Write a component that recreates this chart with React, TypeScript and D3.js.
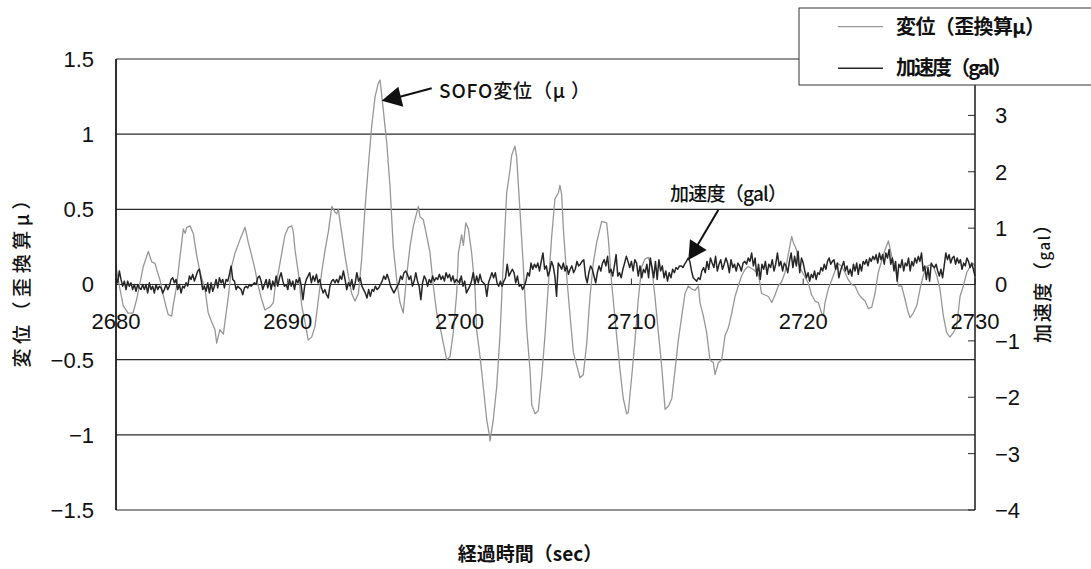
import React from 'react';
import * as d3 from 'd3';

// Time axis (seconds) and value ticks
const T0 = 2680;
const T1 = 2730;
const timeTicks = [2680, 2690, 2700, 2710, 2720, 2730];
const dispTicks = [-1.5, -1, -0.5, 0, 0.5, 1, 1.5];
const accelTicks = [-4, -3, -2, -1, 0, 1, 2, 3, 4];
// the top label (4) sits under the legend box
const accelTickLabels = [-4, -3, -2, -1, 0, 1, 2, 3];

// SOFO displacement (strain-equivalent μ): [seconds after 2680, value]
const displacement: [number, number][] = [
  [0.00,0.12],[0.23,-0.03],[0.42,-0.14],[0.70,-0.19],[0.99,-0.19],[1.20,-0.10],[1.59,0.12],[1.88,0.22],[2.08,0.15],[2.27,0.14],
  [2.37,0.10],[2.56,0.03],[2.85,-0.12],[3.04,-0.20],[3.24,-0.21],[3.34,-0.13],[3.53,-0.01],[3.73,0.19],[3.92,0.37],[4.02,0.34],
  [4.12,0.38],[4.31,0.39],[4.50,0.34],[4.70,0.19],[4.89,0.08],[5.18,-0.03],[5.37,-0.19],[5.57,-0.25],[5.76,-0.30],[5.86,-0.39],
  [6.05,-0.30],[6.25,-0.33],[6.34,-0.25],[6.54,-0.08],[6.73,0.12],[6.93,0.21],[7.22,0.30],[7.51,0.38],[7.70,0.28],[7.90,0.19],
  [8.09,0.10],[8.28,-0.01],[8.48,-0.10],[8.67,-0.17],[8.96,-0.15],[9.16,-0.12],[9.25,-0.03],[9.45,0.08],[9.65,0.21],[9.84,0.33],
  [10.03,0.38],[10.23,0.39],[10.32,0.35],[10.42,0.23],[10.61,0.08],[10.81,-0.14],[11.00,-0.25],[11.19,-0.37],[11.39,-0.35],[11.58,-0.28],
  [11.78,-0.10],[11.97,0.08],[12.17,0.23],[12.36,0.35],[12.56,0.52],[12.75,0.48],[12.85,0.47],[12.94,0.50],[13.14,0.34],[13.33,0.19],
  [13.52,0.06],[13.72,-0.06],[13.91,-0.11],[14.11,-0.06],[14.30,0.17],[14.49,0.50],[14.69,0.79],[14.88,1.05],[15.08,1.25],[15.27,1.34],
  [15.37,1.36],[15.56,1.16],[15.76,0.94],[15.95,0.65],[16.14,0.25],[16.34,0.03],[16.53,-0.12],[16.72,-0.19],[16.92,0.06],[17.11,0.25],
  [17.31,0.39],[17.60,0.52],[17.69,0.45],[17.89,0.43],[18.09,0.32],[18.28,0.21],[18.47,-0.01],[18.67,-0.19],[18.86,-0.28],[19.05,-0.39],
  [19.25,-0.50],[19.44,-0.48],[19.63,-0.32],[19.83,-0.06],[19.93,0.21],[20.12,0.33],[20.22,0.26],[20.36,0.41],[20.51,0.37],[20.70,0.21],
  [20.90,-0.03],[20.99,-0.30],[21.19,-0.48],[21.38,-0.68],[21.58,-0.90],[21.73,-1.00],[21.77,-1.04],[21.96,-0.90],[22.16,-0.68],[22.35,-0.34],
  [22.54,0.14],[22.74,0.61],[22.93,0.76],[23.03,0.86],[23.22,0.92],[23.32,0.85],[23.52,0.48],[23.71,0.12],[23.91,-0.30],[24.10,-0.57],
  [24.20,-0.80],[24.39,-0.86],[24.58,-0.84],[24.78,-0.61],[24.97,-0.34],[25.16,-0.01],[25.36,0.32],[25.55,0.57],[25.75,0.61],[25.84,0.66],
  [25.94,0.60],[26.04,0.37],[26.23,0.06],[26.43,-0.21],[26.62,-0.45],[26.82,-0.54],[27.01,-0.62],[27.20,-0.60],[27.40,-0.39],[27.59,-0.08],
  [27.78,0.14],[27.98,0.28],[28.27,0.42],[28.56,0.41],[28.66,0.30],[28.85,0.01],[29.14,-0.34],[29.34,-0.57],[29.53,-0.76],[29.73,-0.86],
  [29.82,-0.85],[30.02,-0.61],[30.21,-0.37],[30.40,-0.10],[30.60,0.12],[30.79,0.17],[30.99,0.18],[31.18,0.12],[31.37,-0.08],[31.57,-0.32],
  [31.76,-0.54],[31.96,-0.83],[32.15,-0.81],[32.35,-0.76],[32.54,-0.57],[32.73,-0.37],[32.93,-0.21],[33.12,-0.06],[33.31,-0.01],[33.51,-0.03],
  [33.70,-0.04],[33.90,-0.01],[33.99,-0.12],[34.19,-0.21],[34.38,-0.32],[34.57,-0.50],[34.77,-0.52],[34.87,-0.60],[35.06,-0.52],[35.26,-0.50],
  [35.45,-0.34],[35.64,-0.29],[35.84,-0.19],[36.03,-0.08],[36.22,-0.01],[36.42,0.06],[36.61,0.10],[36.80,0.12],[37.10,0.10],[37.39,0.07],
  [37.58,-0.06],[37.78,-0.07],[37.97,-0.08],[38.17,-0.12],[38.36,-0.07],[38.55,-0.01],[38.75,0.02],[38.94,0.08],[39.13,0.20],[39.33,0.32],
  [39.42,0.28],[39.62,0.23],[39.71,0.14],[39.91,0.09],[40.10,0.05],[40.30,0.01],[40.49,-0.07],[40.69,-0.11],[40.88,-0.12],[41.07,-0.19],
  [41.17,-0.21],[41.27,-0.12],[41.46,-0.03],[41.66,0.03],[41.85,0.09],[42.04,0.14],[42.24,0.12],[42.43,0.08],[42.63,0.03],[42.82,0.00],
  [43.02,-0.01],[43.21,-0.06],[43.41,-0.09],[43.60,-0.11],[43.79,-0.16],[43.99,-0.15],[44.18,-0.06],[44.37,0.08],[44.57,0.16],[44.76,0.23],
  [44.96,0.29],[45.15,0.19],[45.34,0.12],[45.54,-0.01],[45.73,-0.01],[45.93,-0.10],[46.12,-0.19],[46.22,-0.22],[46.41,-0.19],[46.61,-0.14],
  [46.80,-0.03],[46.99,0.06],[47.19,0.12],[47.38,0.13],[47.58,0.12],[47.77,0.06],[47.96,-0.03],[48.16,-0.21],[48.35,-0.32],[48.54,-0.35],
  [48.74,-0.32],[48.93,-0.28],[49.13,-0.08],[49.32,-0.01],[49.52,0.08],[49.71,0.12],[49.90,0.14],[50.00,0.12],
];

// Acceleration (gal), evenly sampled within each 10-second block
const accel2680 = [
  0.12,0.03,0.24,0.09,-0.03,0.06,-0.09,0.06,-0.03,0.03,-0.09,0,-0.12,0,-0.06,-0.09,0,-0.09,0,-0.15,
  0.03,-0.09,-0.03,-0.15,0,-0.09,-0.03,-0.06,-0.15,-0.09,0,-0.09,-0.03,0.09,0.12,0.03,0.09,-0.09,0,-0.15,
  -0.03,-0.06,0.03,-0.03,0.15,0.09,0.18,0.06,0.15,0.24,0.27,0.09,-0.09,-0.03,-0.12,0.03,-0.15,0.03,-0.12,-0.03,
  0.09,-0.06,0.12,0.03,0.09,-0.06,0.09,0.06,0.18,0.33,0.09,0.06,-0.09,-0.03,-0.06,-0.09,-0.18,-0.06,-0.03,-0.06,
  0,-0.03,0,0.03,0,0.12,0.15,0.06,-0.09,0,0.09,-0.06,0.09,-0.09,0.06,-0.03,0.15,-0.03,0.12,0.21,
  0.06,-0.03,0,
];
const accel2690 = [
  -0.09,0.09,-0.03,0.06,-0.09,0.09,0.03,0.12,-0.03,-0.27,-0.03,0.09,0.15,0.21,0.03,0.15,0.06,0.18,0.03,0.09,
  -0.06,-0.15,-0.09,-0.18,-0.24,-0.03,0.06,0.09,0.03,0.09,0.03,0.15,0.09,0.24,0.09,-0.09,0.03,-0.03,0.09,-0.09,
  0.03,0.21,0.06,0.12,-0.03,-0.09,-0.15,-0.24,-0.09,-0.21,-0.09,-0.12,-0.03,-0.09,-0.06,0,0.06,0.15,0.09,0.18,
  0.09,-0.03,-0.09,-0.15,-0.09,-0.03,0.03,0.15,0.09,0.21,0.24,0.18,0.09,0.15,-0.03,0.06,0.21,0.06,-0.03,-0.27,
  0.03,0.15,0.09,-0.03,0.09,0.03,0.15,0.06,0.12,0.09,0.18,0.09,0.15,0.06,0.21,0.12,0.18,0.06,0.15,0.03,
  0.09,0.06,
];
const accel2700 = [
  0.03,0.15,-0.03,0.06,-0.15,-0.09,-0.03,0.06,0.21,0,0.15,0.03,0.18,0.06,0.03,0,-0.21,0.03,0.12,0.21,
  0.12,0.21,0.03,-0.03,0.06,-0.03,0.06,0.12,0.36,0.15,0.21,0.27,0.21,0.03,0.15,-0.03,0,-0.09,-0.03,0.06,
  0.21,0.15,0.38,0.27,0.36,0.30,0.38,0.24,0.41,0.56,0.27,0.33,0.15,0.24,0.41,0.33,0.15,-0.21,0.38,0.33,
  0.27,0.38,0.24,0.33,0.18,0.27,0.33,0.21,0.27,0.41,0.33,0.36,0.41,0.44,0.15,0.03,0.21,0.33,0.27,0.15,
  0.03,0.21,0.33,0.24,0.38,0.44,0.33,0.50,0.21,0.27,0.15,0.33,0.53,0.15,0.21,0.12,0.27,0.38,0.50,0.41,
  0.30,
];
const accel2710 = [
  0.41,0.24,0.44,0.38,0.15,0.33,0.12,0.27,0.21,0.36,0.12,0.47,0.30,0.12,0.41,0.09,0.44,0.24,0.33,0.12,
  0.24,0.06,0.21,0.12,0.27,0.21,0.30,0.27,0.33,0.33,0.30,0.36,0.41,0.47,0.41,0.24,0.12,0.09,0.06,0.12,
  0.09,0.24,0.30,0.21,0.41,0.27,0.47,0.38,0.30,0.50,0.24,0.36,0.44,0.27,0.36,0.47,0.38,0.21,0.44,0.30,
  0.36,0.24,0.38,0.33,0.24,0.38,0.41,0.36,0.47,0.41,0.56,0.33,0.47,0.15,0.36,0.09,0.36,0.27,0.41,0.18,
  0.36,0.30,0.44,0.24,0.36,0.56,0.33,0.41,0.24,0.38,0.33,0.21,0.41,0.56,0.30,0.50,0.33,0.59,0.21,0.47,
];
const accel2720 = [
  0.38,0.24,0.12,0.21,0.06,0.18,0.12,0.24,0.09,0.21,0.18,0.30,0.24,0.36,0.27,0.41,0.47,0.36,0.41,0.44,
  0.27,0.38,0.12,0.24,0.33,0.41,0.24,0.33,0.18,0.27,0.15,0.36,0.24,0.38,0.18,0.36,0.24,0.41,0.36,0.44,
  0.33,0.47,0.41,0.50,0.44,0.53,0.38,0.56,0.44,0.53,0.36,0.56,0.47,0.62,0.36,0.47,0.24,0.41,0.06,0.36,
  0.30,0.44,0.24,0.38,0.33,0.47,0.24,0.41,0.33,0.47,0.38,0.50,0.41,0.56,0.24,0.33,0.09,0.30,0.06,0.38,
  0.33,0.30,0.36,0.24,0.15,0.27,0.12,0.33,0.56,0.44,0.53,0.38,0.47,0.50,0.36,0.47,0.38,0.44,0.27,0.38,
  0.33,0.47,0.41,0.30,0.38,0.27,0.15,
];
const accelBlocks = [accel2680, accel2690, accel2700, accel2710, accel2720];

const legendLabels = ['変位（歪換算μ）', '加速度（gal）'];

const NUM_FONT = "'Liberation Sans', Arial, Helvetica, sans-serif";
const JP_FONT = "'Noto Sans CJK JP', 'Noto Sans', sans-serif";
const GRAY = '#979797';
const DARK = '#262626';
const RULE = '#2a2a2a';

const fmt = (v: number) => (v < 0 ? '\u2212' + String(-v) : String(v));

export default function App() {
  const W = 1091;
  const H = 569;
  const x = d3.scaleLinear().domain([T0, T1]).range([116, 975]);
  const yL = d3.scaleLinear().domain([-1.5, 1.5]).range([510, 59]);
  const yR = d3.scaleLinear().domain([-4, 4]).range([510, 59]);

  const dispPath = d3
    .line<[number, number]>()
    .x((d) => x(T0 + d[0]))
    .y((d) => yL(d[1]))(displacement) as string;

  const accelPoints: [number, number][] = [];
  accelBlocks.forEach((block, k) => {
    const start = T0 + 10 * k;
    const isLast = k === accelBlocks.length - 1;
    const step = 10 / (isLast ? block.length - 1 : block.length);
    block.forEach((v, i) => accelPoints.push([start + i * step, v]));
  });
  const accelPath = d3
    .line<[number, number]>()
    .x((d) => x(d[0]))
    .y((d) => yR(d[1]))(accelPoints) as string;

  const xLeft = x(T0);
  const xRight = x(T1);
  const y0 = yL(0);

  return (
    <svg
      width={W}
      height={H}
      viewBox={`0 0 ${W} ${H}`}
      style={{ position: 'absolute', left: 0, top: 0, background: '#fff' }}
    >
      <rect x={0} y={0} width={W} height={H} fill="#fff" />

      {/* horizontal gridlines at the displacement ticks */}
      {dispTicks.map((v) => (
        <line key={'g' + v} x1={xLeft} x2={xRight} y1={yL(v)} y2={yL(v)} stroke={RULE} strokeWidth={1.1} />
      ))}

      {/* tick marks on the time axis */}
      {timeTicks.map((t) => (
        <line key={'xt' + t} x1={x(t)} x2={x(t)} y1={y0} y2={y0 - 6} stroke={RULE} strokeWidth={1} />
      ))}

      {/* right axis tick marks */}
      {accelTicks.map((v) => (
        <line key={'rt' + v} x1={xRight - 7} x2={xRight} y1={yR(v)} y2={yR(v)} stroke={RULE} strokeWidth={1} />
      ))}

      {/* data */}
      <path d={dispPath} fill="none" stroke={GRAY} strokeWidth={1.3} strokeLinejoin="round" />
      <path d={accelPath} fill="none" stroke={DARK} strokeWidth={1.5} strokeLinejoin="round" />

      {/* axis lines */}
      <line x1={xLeft} x2={xLeft} y1={yL(1.5)} y2={yL(-1.5)} stroke="#1a1a1a" strokeWidth={1.8} />
      <line x1={xRight} x2={xRight} y1={yL(1.5)} y2={yL(-1.5)} stroke="#1a1a1a" strokeWidth={1.5} />

      {/* left tick labels */}
      {dispTicks.map((v) => (
        <text key={'ll' + v} x={94} y={yL(v)} dy="0.36em" textAnchor="end" fontFamily={NUM_FONT} fontSize={22} fill="#111">
          {fmt(v)}
        </text>
      ))}

      {/* right tick labels */}
      {accelTickLabels.map((v) => (
        <text key={'rl' + v} x={995} y={yR(v)} dy="0.36em" textAnchor="start" fontFamily={NUM_FONT} fontSize={22} fill="#111">
          {fmt(v)}
        </text>
      ))}

      {/* time labels */}
      {timeTicks.map((t) => (
        <text key={'tl' + t} x={x(t)} y={y0 + 37} dy="0.36em" textAnchor="middle" fontFamily={NUM_FONT} fontSize={22} fill="#111">
          {t}
        </text>
      ))}

      {/* axis titles */}
      <text
        transform={`translate(22, 279) rotate(-90)`}
        textAnchor="middle"
        dy="0.36em"
        fontFamily={JP_FONT}
        fontSize={19}
        fontWeight={500}
        textLength={177}
        lengthAdjust="spacing"
        fill="#111"
      >
        変位（歪換算μ）
      </text>
      <text
        transform={`translate(1043, 279) rotate(-90)`}
        textAnchor="middle"
        dy="0.36em"
        fontFamily={JP_FONT}
        fontSize={19}
        fontWeight={500}
        textLength={128}
        lengthAdjust="spacing"
        fill="#111"
      >
        加速度（<tspan fontSize={15}>gal</tspan>）
      </text>
      <text
        x={530}
        y={554}
        dy="0.36em"
        textAnchor="middle"
        fontFamily={JP_FONT}
        fontSize={19}
        fontWeight={700}
        fill="#111"
      >
        経過時間（sec）
      </text>

      {/* annotations */}
      <line x1={431.7} y1={88.3} x2={399} y2={97} stroke="#111" strokeWidth={2} />
      <polygon points="381.7,100.7 398.3,86.7 403.3,106.7" fill="#111" />
      <text x={439} y={91} dy="0.36em" fontFamily={JP_FONT} fontSize={19} fontWeight={500} textLength={151} lengthAdjust="spacing" fill="#111">
        SOFO変位（μ ）
      </text>

      <line x1={718.3} y1={210} x2={697} y2={246} stroke="#111" strokeWidth={2} />
      <polygon points="688.3,260 690,239.3 706.7,250" fill="#111" />
      <text x={670} y={194} dy="0.36em" fontFamily={JP_FONT} fontSize={19} fontWeight={500} textLength={117} lengthAdjust="spacing" fill="#111">
        加速度（gal）
      </text>

      {/* legend */}
      <rect x={799} y={8} width={300} height={77} fill="#fff" stroke="#333" strokeWidth={1} />
      <line x1={838} x2={883} y1={26.7} y2={26.7} stroke={GRAY} strokeWidth={1.3} />
      <line x1={838} x2={883} y1={68.3} y2={68.3} stroke={DARK} strokeWidth={1.5} />
      <text x={896} y={27} dy="0.36em" fontFamily={JP_FONT} fontSize={20} fontWeight={700} textLength={149} lengthAdjust="spacing" fill="#111">
        {legendLabels[0]}
      </text>
      <text x={896} y={68} dy="0.36em" fontFamily={JP_FONT} fontSize={20} fontWeight={700} textLength={116} lengthAdjust="spacing" fill="#111">
        {legendLabels[1]}
      </text>
    </svg>
  );
}
